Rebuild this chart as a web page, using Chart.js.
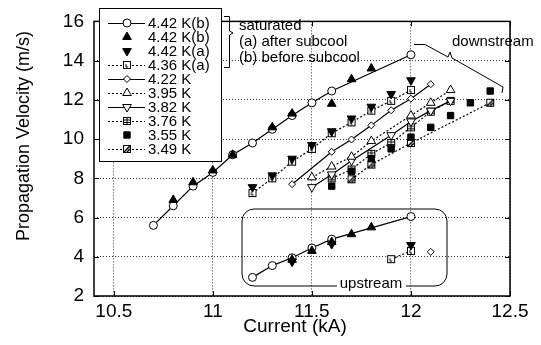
<!DOCTYPE html>
<html>
<head>
<meta charset="utf-8">
<script src="https://cdn.jsdelivr.net/npm/chart.js@4.4.0/dist/chart.umd.min.js"></script>
<style>
    html, body { margin: 0; padding: 0; background: #fff; }
</style>
</head>
<body>
<canvas id="grafico" width="541" height="345"></canvas>
<script>
// Eixos
const xTicks = [10.5, 11, 11.5, 12, 12.5];
const yMin = 2, yMax = 16, yStep = 2;

// Séries: corrente (kA) e velocidade (m/s), jusante (down) e montante (up)
const i442bCircDown = [10.7, 10.8, 10.9, 11.0, 11.1, 11.2, 11.3, 11.4, 11.5, 11.6, 12.0];
const v442bCircDown = [5.6, 6.6, 7.6, 8.3, 9.2, 9.8, 10.5, 11.2, 11.85, 12.45, 14.3];
const i442bCircUp = [11.2, 11.3, 11.4, 11.5, 11.6, 12.0];
const v442bCircUp = [2.95, 3.55, 3.95, 4.45, 4.9, 6.05];

const i442bTriDown = [10.8, 10.9, 11.0, 11.1, 11.3, 11.4, 11.6, 11.7, 11.8];
const v442bTriDown = [6.9, 7.8, 8.4, 9.2, 10.6, 11.3, 11.8, 13.05, 13.6];
const i442bTriUp = [11.4, 11.5, 11.6, 11.7, 11.8];
const v442bTriUp = [3.85, 4.3, 4.75, 5.15, 5.5];

const i442aDown = [11.2, 11.3, 11.4, 11.5, 11.6, 11.7, 11.8, 11.9, 12.0];
const v442aDown = [7.55, 8.15, 9.0, 9.7, 10.4, 11.05, 11.65, 12.3, 13.0];
const i442aUp = [11.4, 11.6, 12.0];
const v442aUp = [3.75, 4.65, 4.6];

const i436aDown = [11.2, 11.3, 11.4, 11.5, 11.6, 11.7, 11.8, 11.9, 12.0];
const v436aDown = [7.25, 8.0, 8.85, 9.5, 10.3, 10.85, 11.45, 11.95, 12.5];
const i436aUp = [11.9, 12.0];
const v436aUp = [3.88, 4.3];

const i422Down = [11.4, 11.6, 11.7, 11.8, 11.9, 12.0, 12.1];
const v422Down = [7.7, 9.35, 9.98, 10.7, 11.47, 12.06, 12.8];
const i422Up = [12.1];
const v422Up = [4.25];

const i395 = [11.5, 11.6, 11.7, 11.8, 12.0, 12.1, 12.2];
const v395 = [8.05, 8.6, 9.1, 9.9, 11.2, 11.85, 12.5];

const i382 = [11.5, 11.6, 11.7, 11.9, 12.0, 12.1, 12.2];
const v382 = [7.55, 8.2, 8.9, 10.2, 10.9, 11.45, 11.95];

const i376 = [11.6, 11.7, 11.8, 11.9, 12.0, 12.1, 12.2];
const v376 = [8.0, 8.45, 9.25, 9.8, 10.6, 11.4, 11.95];

const i355 = [11.6, 11.7, 11.8, 11.9, 12.0, 12.1, 12.2, 12.3, 12.4];
const v355 = [7.6, 8.35, 9.0, 9.5, 10.1, 10.6, 11.2, 11.85, 12.45];

const i349 = [11.7, 11.8, 12.0, 12.4];
const v349 = [7.95, 8.7, 9.8, 11.85];

const legendLabels = ['4.42 K(b)', '4.42 K(b)', '4.42 K(a)', '4.36 K(a)', '4.22 K',
    '3.95 K', '3.82 K', '3.76 K', '3.55 K', '3.49 K'];
const noteLines = ['saturated', '(a) after subcool', '(b) before subcool'];

const FONT = '"Liberation Sans", Arial, sans-serif';

// Marcadores desenhados à mão (quadrado com grade, hachurado, com ponto)
function makeMarker(kind) {
    const c = document.createElement('canvas');
    c.width = 10; c.height = 10;
    const g = c.getContext('2d');
    g.fillStyle = '#fff';
    g.fillRect(1, 1, 8, 8);
    g.strokeStyle = '#000';
    g.lineWidth = 1;
    g.strokeRect(1.5, 1.5, 7, 7);
    g.beginPath();
    if (kind === 'grid') {
        g.moveTo(5, 1.5); g.lineTo(5, 8.5);
        g.moveTo(1.5, 4); g.lineTo(8.5, 4);
        g.moveTo(1.5, 6.5); g.lineTo(8.5, 6.5);
    } else if (kind === 'hatch') {
        g.lineWidth = 1.5;
        g.moveTo(2, 8); g.lineTo(8, 2);
        g.moveTo(5, 8); g.lineTo(8, 5);
    } else if (kind === 'dot') {
        g.moveTo(4, 4); g.lineTo(4, 7); g.lineTo(6, 7);
    }
    g.stroke();
    return c;
}

const styles = {
    circ:    { pointStyle: 'circle', pointRadius: 4, pointBackgroundColor: '#fff', showLine: true, borderDash: [] },
    triUpF:  { pointStyle: 'triangle', pointRadius: 5, pointBackgroundColor: '#000', showLine: false },
    triDnF:  { pointStyle: 'triangle', pointRadius: 5, pointRotation: 180, pointBackgroundColor: '#000', showLine: false },
    sqDot:   { pointStyle: makeMarker('dot'), showLine: true, borderDash: [2, 2] },
    diam:    { pointStyle: 'rectRot', pointRadius: 3.5, pointBackgroundColor: '#fff', showLine: true, borderDash: [] },
    triUpO:  { pointStyle: 'triangle', pointRadius: 5, pointBackgroundColor: '#fff', showLine: true, borderDash: [2, 2] },
    triDnO:  { pointStyle: 'triangle', pointRadius: 5, pointRotation: 180, pointBackgroundColor: '#fff', showLine: true, borderDash: [] },
    sqGrid:  { pointStyle: makeMarker('grid'), showLine: true, borderDash: [2, 2] },
    sqFill:  { pointStyle: 'rect', pointRadius: 4.5, pointBackgroundColor: '#000', showLine: false },
    sqHatch: { pointStyle: makeMarker('hatch'), showLine: true, borderDash: [2, 2] }
};
const legendStyles = ['circ', 'triUpF', 'triDnF', 'sqDot', 'diam', 'triUpO', 'triDnO', 'sqGrid', 'sqFill', 'sqHatch'];

function serie(xs, ys, key) {
    return Object.assign({
        data: xs.map((x, i) => ({ x: x, y: ys[i] })),
        borderColor: '#000',
        pointBorderColor: '#000',
        borderWidth: 1.2,
        pointBorderWidth: 1,
        pointHoverRadius: 4
    }, styles[key]);
}

// Primeiro dataset fica por cima no desenho
const datasets = [
    serie(i442bTriDown, v442bTriDown, 'triUpF'),
    serie(i442bTriUp, v442bTriUp, 'triUpF'),
    serie(i442aDown, v442aDown, 'triDnF'),
    serie(i442aUp, v442aUp, 'triDnF'),
    serie(i355, v355, 'sqFill'),
    serie(i442bCircDown, v442bCircDown, 'circ'),
    serie(i442bCircUp, v442bCircUp, 'circ'),
    serie(i436aDown, v436aDown, 'sqDot'),
    serie(i436aUp, v436aUp, 'sqDot'),
    serie(i422Down, v422Down, 'diam'),
    serie(i422Up, v422Up, 'diam'),
    serie(i395, v395, 'triUpO'),
    serie(i382, v382, 'triDnO'),
    serie(i376, v376, 'sqGrid'),
    serie(i349, v349, 'sqHatch')
];

function marker(ctx, key, x, y) {
    const s = styles[key];
    ctx.save();
    ctx.fillStyle = s.pointBackgroundColor || '#fff';
    ctx.strokeStyle = '#000';
    ctx.lineWidth = 1;
    Chart.helpers.drawPoint(ctx, {
        pointStyle: s.pointStyle, radius: s.pointRadius || 4,
        rotation: s.pointRotation || 0, borderWidth: 1
    }, x, y);
    ctx.restore();
}

// Moldura, ticks internos, legenda e anotações
const decor = {
    id: 'decor',
    afterDraw(chart) {
        const ctx = chart.ctx;
        const a = chart.chartArea;
        const sx = chart.scales.x, sy = chart.scales.y;
        ctx.save();
        ctx.strokeStyle = '#000';
        ctx.lineWidth = 1.5;
        ctx.strokeRect(a.left, a.top, a.right - a.left, a.bottom - a.top);

        ctx.lineWidth = 1;
        ctx.beginPath();
        xTicks.forEach(v => {
            const px = Math.round(sx.getPixelForValue(v)) + 0.5;
            ctx.moveTo(px, a.bottom); ctx.lineTo(px, a.bottom - 5);
            ctx.moveTo(px, a.top); ctx.lineTo(px, a.top + 5);
        });
        for (let v = yMin; v <= yMax; v += yStep) {
            const py = Math.round(sy.getPixelForValue(v)) + 0.5;
            ctx.moveTo(a.left, py); ctx.lineTo(a.left + 5, py);
            ctx.moveTo(a.right, py); ctx.lineTo(a.right - 5, py);
        }
        ctx.stroke();

        // títulos dos eixos
        ctx.fillStyle = '#000';
        ctx.font = '19px ' + FONT;
        ctx.textAlign = 'center';
        ctx.textBaseline = 'middle';
        ctx.fillText('Current (kA)', 295, 327);
        ctx.save();
        ctx.translate(24, 136);
        ctx.rotate(-Math.PI / 2);
        ctx.font = '18px ' + FONT;
        ctx.fillText('Propagation Velocity (m/s)', 0, 0);
        ctx.restore();

        // legenda
        ctx.fillStyle = '#fff';
        ctx.fillRect(99, 8, 122, 153);
        ctx.strokeStyle = '#000';
        ctx.lineWidth = 1;
        ctx.strokeRect(99.5, 8.5, 122, 153);
        ctx.font = '15px ' + FONT;
        ctx.textAlign = 'left';
        legendLabels.forEach((lab, i) => {
            const y = 23 + i * 14;
            const st = styles[legendStyles[i]];
            if (st.showLine) {
                ctx.save();
                ctx.setLineDash(st.borderDash);
                ctx.beginPath();
                ctx.moveTo(108, y + 0.5); ctx.lineTo(145, y + 0.5);
                ctx.stroke();
                ctx.restore();
            }
            marker(ctx, legendStyles[i], 127, y);
            ctx.fillStyle = '#000';
            ctx.fillText(lab, 148, y + 1);
        });

        // chave e nota
        ctx.beginPath();
        ctx.moveTo(224, 16.5); ctx.lineTo(229.5, 16.5); ctx.lineTo(229.5, 31);
        ctx.lineTo(233, 33); ctx.lineTo(229.5, 35); ctx.lineTo(229.5, 67.5); ctx.lineTo(224, 67.5);
        ctx.stroke();
        noteLines.forEach((t, i) => ctx.fillText(t, 239, 26 + i * 16));

        // downstream
        ctx.beginPath();
        ctx.moveTo(414, 44.5); ctx.lineTo(425, 44.5); ctx.lineTo(448, 57);
        ctx.lineTo(450, 52); ctx.lineTo(452, 58); ctx.lineTo(503, 87); ctx.lineTo(502, 93);
        ctx.stroke();
        ctx.fillText('downstream', 452, 42);

        // upstream
        const L = 242, T = 209, R = 447, B = 286, r = 12;
        ctx.beginPath();
        ctx.moveTo(337, B);
        ctx.arcTo(L, B, L, T, r);
        ctx.arcTo(L, T, R, T, r);
        ctx.arcTo(R, T, R, B, r);
        ctx.arcTo(R, B, L, B, r);
        ctx.lineTo(406, B);
        ctx.stroke();
        ctx.textAlign = 'center';
        ctx.fillText('upstream', 371, 284);
        ctx.restore();
    }
};

new Chart(document.getElementById('grafico'), {
    type: 'scatter',
    data: { datasets: datasets },
    options: {
        responsive: false,
        animation: false,
        devicePixelRatio: 1,
        layout: { padding: { top: 21, right: 31, left: 0, bottom: 0 } },
        plugins: { legend: { display: false }, tooltip: { enabled: false } },
        scales: {
            x: {
                type: 'linear',
                min: 10.4,
                max: 12.5,
                afterBuildTicks: s => { s.ticks = xTicks.map(v => ({ value: v })); },
                afterFit: s => { s.height = 49; },
                ticks: { color: '#000', font: { family: FONT, size: 19 }, padding: 4, callback: v => String(v) },
                grid: { color: '#333', drawTicks: false, lineWidth: 1 },
                border: { display: false, dash: [1, 2] }
            },
            y: {
                min: yMin,
                max: yMax,
                afterFit: s => { s.width = 94; },
                ticks: { stepSize: yStep, color: '#000', font: { family: FONT, size: 19 }, padding: 10 },
                grid: { color: '#333', drawTicks: false, lineWidth: 1 },
                border: { display: false, dash: [1, 2] }
            }
        }
    },
    plugins: [decor]
});
</script>
</body>
</html>
